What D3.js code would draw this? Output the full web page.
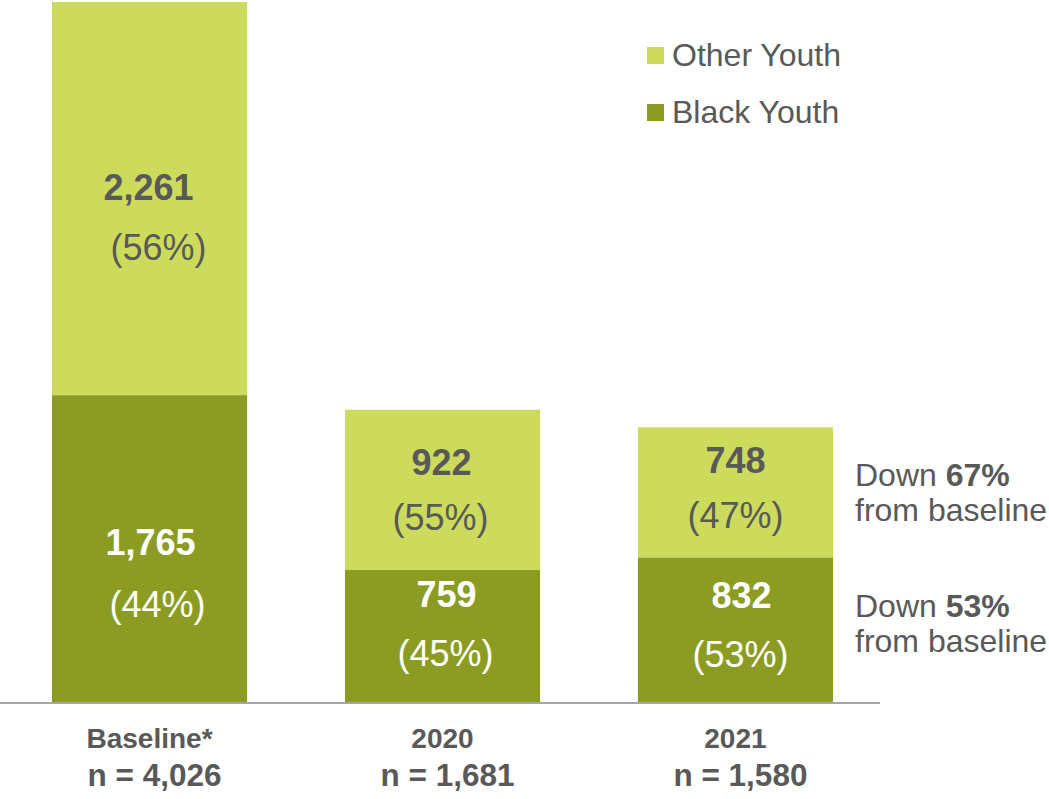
<!DOCTYPE html>
<html>
<head>
<meta charset="utf-8">
<script src="https://cdn.jsdelivr.net/npm/d3@7"></script>
<style>
  html, body { margin: 0; padding: 0; background: #ffffff; }
  svg { display: block; font-family: "Liberation Sans", Arial, sans-serif; }
</style>
</head>
<body>
<svg id="chart" width="1049" height="799"></svg>
<script>
// Youth counts by period, split into Black Youth and Other Youth
const categories = ["Baseline*", "2020", "2021"];
const totalLabels = ["n = 4,026", "n = 1,681", "n = 1,580"];
const blackYouth = [1765, 759, 832];
const otherYouth = [2261, 922, 748];
const blackShare = ["(44%)", "(45%)", "(53%)"];
const otherShare = ["(56%)", "(55%)", "(47%)"];
const seriesNames = ["Other Youth", "Black Youth"];
const changeNotes = [
  { lead: "Down ", pct: "67%", tail: "from baseline", series: "Other Youth" },
  { lead: "Down ", pct: "53%", tail: "from baseline", series: "Black Youth" }
];

const colors = { "Black Youth": "#8c9c23", "Other Youth": "#cddb5c" };
const textGray = "#595959";

const rows = categories.map((c, i) => ({
  category: c,
  "Black Youth": blackYouth[i],
  "Other Youth": otherYouth[i]
}));

const svg = d3.select("#chart");
const baseY = 702;

const x = d3.scaleBand()
  .domain(categories)
  .range([52, 833])
  .paddingInner(0.334)
  .paddingOuter(0);

const y = d3.scaleLinear()
  .domain([0, d3.max(rows, r => r["Black Youth"] + r["Other Youth"])])
  .range([baseY, 2]);

const stack = d3.stack().keys(["Black Youth", "Other Youth"]);
const layers = stack(rows);

// Stacked bars
svg.append("g")
  .selectAll("g")
  .data(layers)
  .join("g")
  .attr("fill", d => colors[d.key])
  .selectAll("rect")
  .data(d => d)
  .join("rect")
  .attr("x", d => x(d.data.category))
  .attr("width", x.bandwidth())
  .attr("y", d => y(d[1]))
  .attr("height", d => y(d[0]) - y(d[1]));

// Axis baseline
svg.append("line")
  .attr("x1", 0).attr("x2", 880)
  .attr("y1", baseY + 1).attr("y2", baseY + 1)
  .attr("stroke", "#a6a6a6")
  .attr("stroke-width", 2);

// Segment labels: value on top, share below, set around the segment middle
const labelShift = {
  "Baseline*|Other Youth": { dy: 16, dxPct: 9, dxNum: -1, gap: 60 },
  "Baseline*|Black Youth": { dy: 21, dxPct: 8, dxNum: 1, gap: 62 },
  "2020|Other Youth": { dy: 0, dxPct: -2, dxNum: -1, gap: 55 },
  "2020|Black Youth": { dy: -14, dxPct: 3, dxNum: 4, gap: 59 },
  "2021|Other Youth": { dy: -4, dxPct: 0, dxNum: 0, gap: 55 },
  "2021|Black Youth": { dy: -7, dxPct: 5, dxNum: 6, gap: 59 }
};
const fmt = d3.format(",");
const labelGroup = svg.append("g").attr("text-anchor", "middle");
layers.forEach(layer => {
  const isBlack = layer.key === "Black Youth";
  layer.forEach((seg, i) => {
    const cat = seg.data.category;
    const s = labelShift[cat + "|" + layer.key];
    const cx = x(cat) + x.bandwidth() / 2;
    const mid = (y(seg[0]) + y(seg[1])) / 2;
    const numY = mid - 15 + s.dy;
    const fill = isBlack ? "#ffffff" : textGray;
    labelGroup.append("text")
      .attr("x", cx + s.dxNum).attr("y", numY)
      .attr("font-size", 36).attr("font-weight", "bold")
      .attr("fill", fill)
      .text(fmt(seg.data[layer.key]));
    labelGroup.append("text")
      .attr("x", cx + s.dxPct).attr("y", numY + s.gap)
      .attr("font-size", 36)
      .attr("fill", fill)
      .text(isBlack ? blackShare[i] : otherShare[i]);
  });
});

// Category labels under the axis
const catGroup = svg.append("g").attr("text-anchor", "middle").attr("fill", textGray).attr("font-weight", "bold");
categories.forEach((c, i) => {
  const cx = x(c) + x.bandwidth() / 2;
  catGroup.append("text")
    .attr("x", cx).attr("y", 748)
    .attr("font-size", 28)
    .text(c);
  catGroup.append("text")
    .attr("x", cx + 5).attr("y", 786)
    .attr("font-size", 31.5)
    .text(totalLabels[i]);
});

// Legend
const legend = svg.append("g");
seriesNames.forEach((name, i) => {
  const ly = 47 + i * 57;
  legend.append("rect")
    .attr("x", 647).attr("y", ly)
    .attr("width", 17).attr("height", 17)
    .attr("fill", colors[name]);
  legend.append("text")
    .attr("x", 672).attr("y", ly + 19)
    .attr("font-size", 32)
    .attr("fill", textGray)
    .text(name);
});

// Change-from-baseline notes beside the last bar
const lastCat = categories[categories.length - 1];
const notes = svg.append("g").attr("fill", textGray).attr("font-size", 32);
const noteOffsets = { "Other Youth": 0, "Black Youth": -7 };
changeNotes.forEach(n => {
  const seg = layers.find(l => l.key === n.series)[categories.indexOf(lastCat)];
  const mid = (y(seg[0]) + y(seg[1])) / 2 + noteOffsets[n.series];
  const t = notes.append("text").attr("x", 855).attr("y", mid - 6);
  t.append("tspan").text(n.lead);
  t.append("tspan").attr("font-weight", "bold").text(n.pct);
  notes.append("text").attr("x", 855).attr("y", mid + 29).text(n.tail);
});
</script>
</body>
</html>
